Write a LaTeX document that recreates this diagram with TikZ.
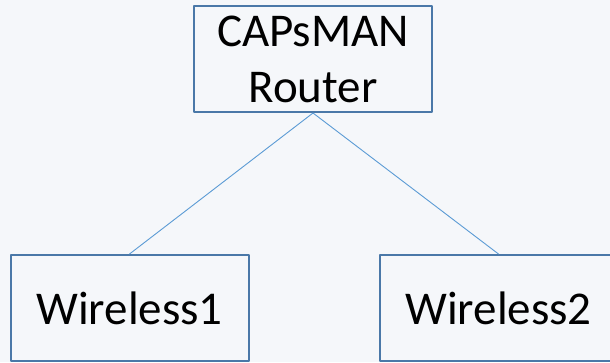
\documentclass[tikz,border=0pt]{standalone}
\usepackage{fontspec}
\setmainfont{Carlito}
\definecolor{bgcol}{HTML}{F5F7FA}
\definecolor{boxblue}{HTML}{4A78A8}
\definecolor{linkblue}{HTML}{5B9BD5}
\begin{document}
\begin{tikzpicture}[x=1pt, y=-1pt, line join=round,
		box/.style={draw=boxblue, fill=bgcol, line width=2pt, rectangle, inner sep=0pt, minimum width=238pt, minimum height=106pt, align=center, font=\fontsize{47}{56}\selectfont},
		link/.style={draw=linkblue, line width=0.9pt}]
			\useasboundingbox[fill=bgcol] (0,0) rectangle (610,362);
			\node[box] (router) at (313,59) {CAPsMAN\\Router};
			\node[box] (wl1) at (129.5,308) {Wireless1};
			\node[box] (wl2) at (498.5,308) {Wireless2};
			\draw[link] (router.south)--(wl1.north);
			\draw[link] (router.south)--(wl2.north);
		\end{tikzpicture}
\end{document}
